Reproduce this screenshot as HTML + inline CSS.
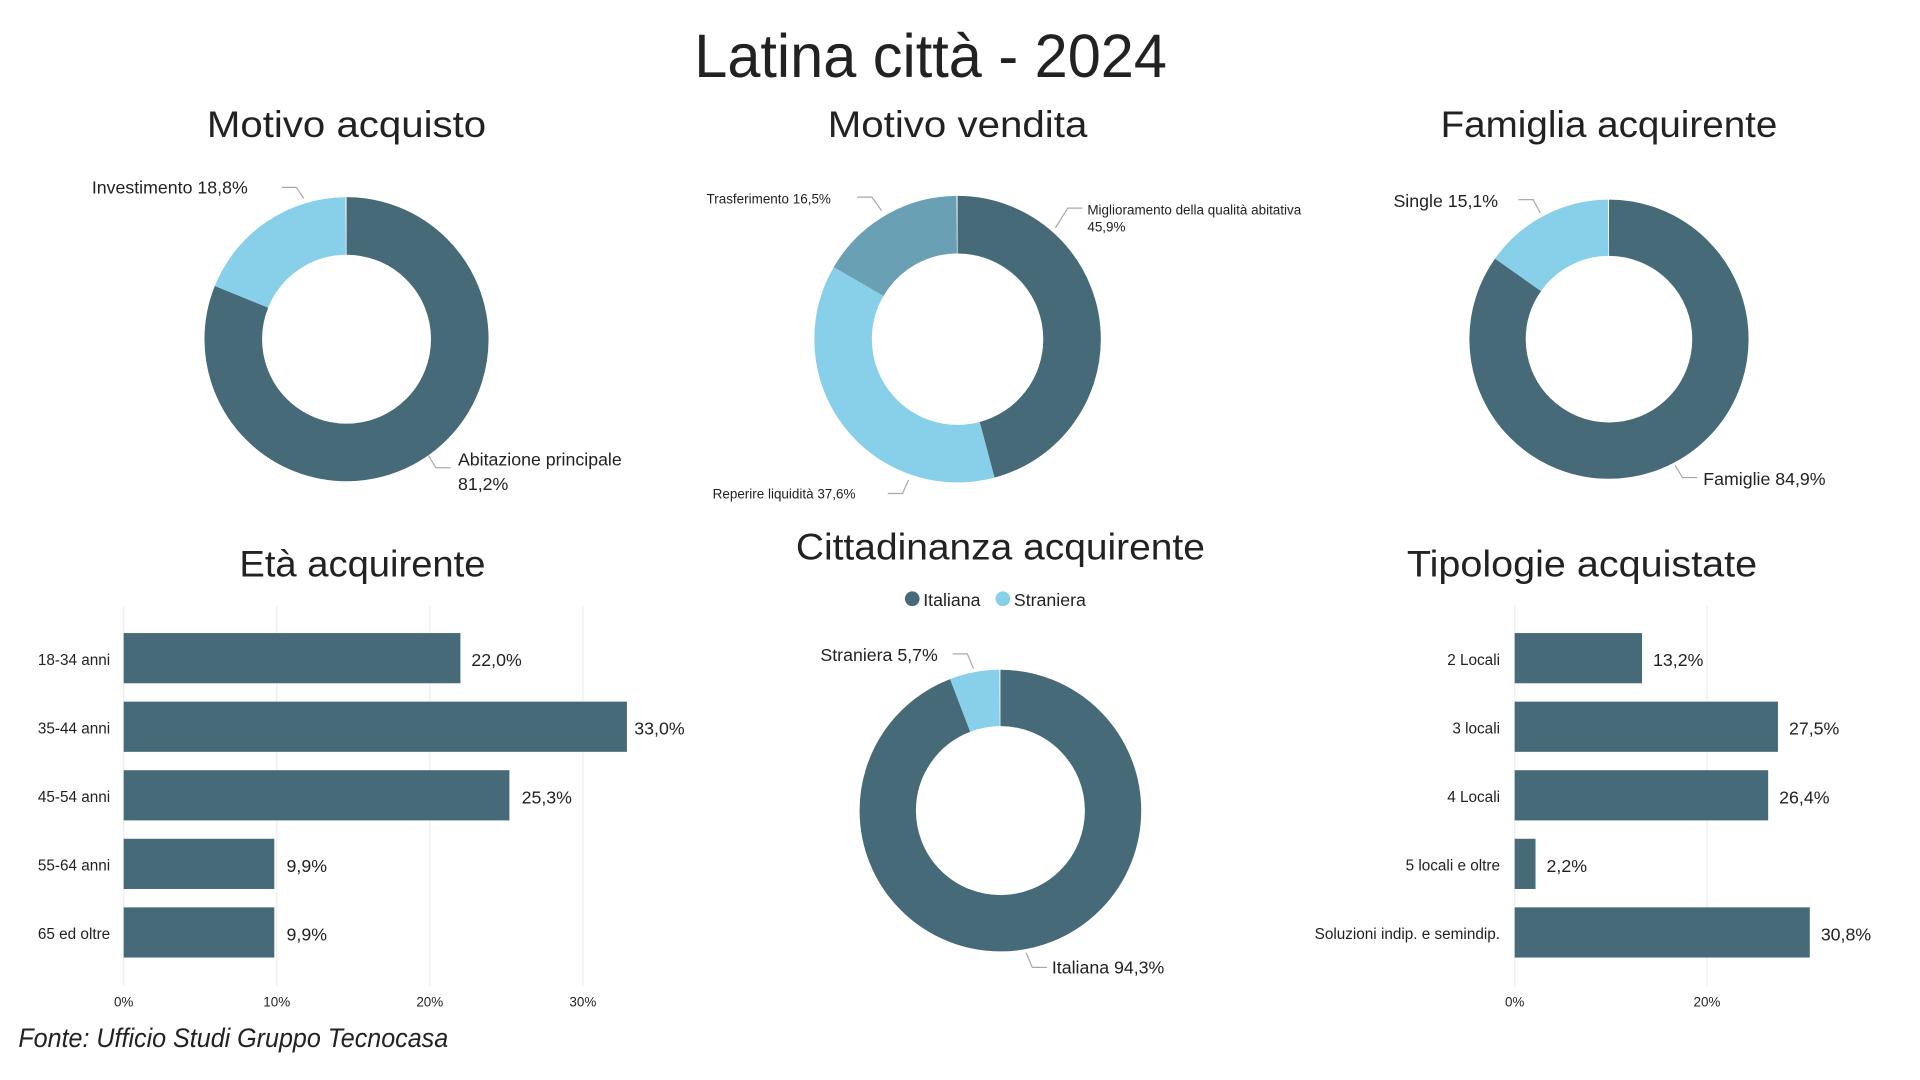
<!DOCTYPE html>
<html><head><meta charset="utf-8"><style>
html,body{margin:0;padding:0;background:#fff;}
svg{display:block;}
text{font-family:"Liberation Sans","DejaVu Sans",sans-serif;fill:#222;}
</style></head><body>
<svg width="1920" height="1080" viewBox="0 0 1568 882" preserveAspectRatio="none" xmlns="http://www.w3.org/2000/svg">
<rect width="1568" height="882" fill="#fff"/>
<text x="760" y="63" font-size="50" text-anchor="middle" textLength="386" lengthAdjust="spacingAndGlyphs" fill="#111">Latina città - 2024</text>
<g font-size="30" text-anchor="middle" fill="#222">
<text x="283" y="112" textLength="228" lengthAdjust="spacingAndGlyphs">Motivo acquisto</text>
<text x="782" y="112" textLength="212" lengthAdjust="spacingAndGlyphs">Motivo vendita</text>
<text x="1314" y="112" textLength="275" lengthAdjust="spacingAndGlyphs">Famiglia acquirente</text>
<text x="296" y="471" textLength="201" lengthAdjust="spacingAndGlyphs">Età acquirente</text>
<text x="817" y="457" textLength="334" lengthAdjust="spacingAndGlyphs">Cittadinanza acquirente</text>
<text x="1292" y="471" textLength="286" lengthAdjust="spacingAndGlyphs">Tipologie acquistate</text>
</g>
<g transform="rotate(-90 283 277)" fill="none" stroke-width="47">
<circle cx="283" cy="277" r="92.5" pathLength="100" stroke="#466a78" stroke-dasharray="81.2 100"/>
<circle cx="283" cy="277" r="92.5" pathLength="100" stroke="#88d0ea" stroke-dasharray="18.8 100" stroke-dashoffset="-81.2"/>
</g>
<g transform="rotate(-90 782 277)" fill="none" stroke-width="47">
<circle cx="782" cy="277" r="93.5" pathLength="100" stroke="#466a78" stroke-dasharray="45.9 100"/>
<circle cx="782" cy="277" r="93.5" pathLength="100" stroke="#88d0ea" stroke-dasharray="37.6 100" stroke-dashoffset="-45.9"/>
<circle cx="782" cy="277" r="93.5" pathLength="100" stroke="#6aa0b4" stroke-dasharray="16.5 100" stroke-dashoffset="-83.5"/>
</g>
<g transform="rotate(-90 1314 277)" fill="none" stroke-width="46">
<circle cx="1314" cy="277" r="91" pathLength="100" stroke="#466a78" stroke-dasharray="84.9 100"/>
<circle cx="1314" cy="277" r="91" pathLength="100" stroke="#88d0ea" stroke-dasharray="15.1 100" stroke-dashoffset="-84.9"/>
</g>
<g transform="rotate(-90 817 662)" fill="none" stroke-width="46">
<circle cx="817" cy="662" r="92" pathLength="100" stroke="#466a78" stroke-dasharray="94.3 100"/>
<circle cx="817" cy="662" r="92" pathLength="100" stroke="#88d0ea" stroke-dasharray="5.7 100" stroke-dashoffset="-94.3"/>
</g>
<g fill="none" stroke="#aaa" stroke-width="1">
<polyline points="230,153 242,153 248,162"/>
<polyline points="350,372 356,382 368,382"/>
<polyline points="700,161 712,161 720,172"/>
<polyline points="884,170 872,170 862,186"/>
<polyline points="725,403 737,403 742,392"/>
<polyline points="1240,163 1252,163 1258,174"/>
<polyline points="1368,380 1374,390 1386,390"/>
<polyline points="778,534 790,534 795,546"/>
<polyline points="838,778 843,790 855,790"/>
</g>
<g font-size="14.5">
<text x="75" y="158">Investimento 18,8%</text>
<text x="374" y="380">Abitazione principale</text>
<text x="374" y="400">81,2%</text>
<text x="1138" y="169">Single 15,1%</text>
<text x="1391" y="396">Famiglie 84,9%</text>
<text x="670" y="540">Straniera 5,7%</text>
<text x="859" y="795">Italiana 94,3%</text>
</g>
<g font-size="11">
<text x="577" y="166">Trasferimento 16,5%</text>
<text x="888" y="175">Miglioramento della qualità abitativa</text>
<text x="888" y="189">45,9%</text>
<text x="582" y="407">Reperire liquidità 37,6%</text>
</g>
<circle cx="745" cy="489" r="6" fill="#466a78"/>
<text x="754" y="495" font-size="14.5">Italiana</text>
<circle cx="819" cy="489" r="6" fill="#88d0ea"/>
<text x="828" y="495" font-size="14.5">Straniera</text>
<g stroke="#eee" stroke-width="1">
<line x1="101" y1="495" x2="101" y2="805"/><line x1="226" y1="495" x2="226" y2="805"/>
<line x1="351" y1="495" x2="351" y2="805"/><line x1="476" y1="495" x2="476" y2="805"/>
<line x1="1237" y1="495" x2="1237" y2="805"/><line x1="1394" y1="495" x2="1394" y2="805"/>
</g>
<g fill="#466a78">
<rect x="101" y="517" width="275" height="41"/>
<rect x="101" y="573" width="411" height="41"/>
<rect x="101" y="629" width="315" height="41"/>
<rect x="101" y="685" width="123" height="41"/>
<rect x="101" y="741" width="123" height="41"/>
<rect x="1237" y="517" width="104" height="41"/>
<rect x="1237" y="573" width="215" height="41"/>
<rect x="1237" y="629" width="207" height="41"/>
<rect x="1237" y="685" width="17" height="41"/>
<rect x="1237" y="741" width="241" height="41"/>
</g>
<g font-size="12.5" fill="#444" text-anchor="end">
<text x="90" y="543">18-34 anni</text><text x="90" y="599">35-44 anni</text>
<text x="90" y="655">45-54 anni</text><text x="90" y="711">55-64 anni</text>
<text x="90" y="767">65 ed oltre</text>
<text x="1225" y="543">2 Locali</text><text x="1225" y="599">3 locali</text>
<text x="1225" y="655">4 Locali</text><text x="1225" y="711">5 locali e oltre</text>
<text x="1225" y="767">Soluzioni indip. e semindip.</text>
</g>
<g font-size="14.5">
<text x="385" y="544">22,0%</text><text x="518" y="600">33,0%</text>
<text x="426" y="656">25,3%</text><text x="234" y="712">9,9%</text>
<text x="234" y="768">9,9%</text>
<text x="1350" y="544">13,2%</text><text x="1461" y="600">27,5%</text>
<text x="1453" y="656">26,4%</text><text x="1263" y="712">2,2%</text>
<text x="1487" y="768">30,8%</text>
</g>
<g font-size="11" fill="#aaa" text-anchor="middle">
<text x="101" y="822">0%</text><text x="226" y="822">10%</text>
<text x="351" y="822">20%</text><text x="476" y="822">30%</text>
<text x="1237" y="822">0%</text><text x="1394" y="822">20%</text>
</g>
<text x="15" y="855" font-size="22" font-style="italic" fill="#333" textLength="351" lengthAdjust="spacingAndGlyphs">Fonte: Ufficio Studi Gruppo Tecnocasa</text>
</svg>
</body></html>
